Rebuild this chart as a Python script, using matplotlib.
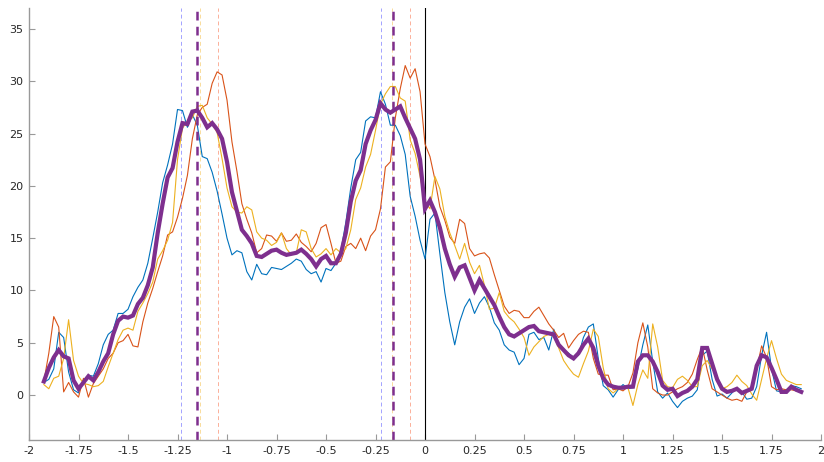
import matplotlib.pyplot as plt
import numpy as np

plt.rcParams['font.family'] = 'DejaVu Sans'
plt.rcParams['axes.unicode_minus'] = False

# time axis (s), one sample every 25 ms
t = np.round(np.arange(-1.925, 1.9001, 0.025), 3)

cond_1 = [1.2, 1.5, 2.5, 6.0, 5.5, 2.2, 0.5, 0.2, 1.4, 1.9,
          1.8, 3.0, 4.8, 5.8, 6.2, 7.8, 7.8, 8.2, 9.4, 10.3,
          11.0, 12.6, 15.0, 17.5, 20.3, 22.0, 24.0, 27.3, 27.2, 25.6,
          26.8, 25.8, 22.8, 22.6, 21.3, 19.5, 17.3, 15.0, 13.4, 13.8,
          13.6, 11.8, 11.0, 12.5, 11.6, 11.5, 12.2, 12.1, 12.0, 12.3,
          12.6, 13.0, 12.8, 12.0, 11.6, 11.8, 10.8, 12.1, 11.9, 12.6,
          13.8, 16.5, 19.8, 22.5, 23.2, 26.2, 26.6, 26.5, 29.0, 27.8,
          25.8, 25.8, 24.8, 23.0, 19.0, 17.1, 14.8, 13.0, 16.8, 17.4,
          13.5, 9.8, 7.0, 4.8, 7.0, 8.4, 9.2, 7.8, 8.8, 9.4,
          8.4, 6.9, 6.2, 4.8, 4.3, 4.1, 2.9, 3.5, 5.8, 6.0,
          5.3, 5.5, 4.3, 6.3, 4.8, 4.3, 4.0, 3.6, 3.8, 5.5,
          6.5, 6.8, 3.5, 0.9, 0.5, -0.2, 0.5, 1.0, 0.6, 0.7,
          2.5, 4.8, 6.7, 3.2, 0.3, -0.3, 0.2, -0.6, -1.2, -0.6,
          -0.3, -0.1, 0.5, 3.8, 4.2, 1.5, -0.1, 0.1, -0.3, 0.2,
          0.7, 0.3, -0.4, -0.3, 0.8, 3.8, 6.0, 2.5, 0.4, 0.3,
          0.5, 0.9, 0.8, 0.6]

cond_2 = [1.3, 4.0, 7.5, 6.5, 0.3, 1.2, 0.3, -0.2, 1.6, -0.2,
          1.1, 1.8, 2.5, 3.5, 4.0, 5.0, 5.2, 5.8, 4.7, 4.6,
          7.0, 8.8, 10.2, 11.8, 13.3, 15.3, 15.6, 17.0, 18.8, 21.0,
          24.5, 26.8, 27.5, 27.8, 29.8, 30.9, 30.6, 28.2, 24.2, 21.4,
          18.3, 16.8, 15.5, 13.6, 14.0, 15.3, 15.2, 14.7, 15.5, 14.7,
          14.8, 15.4, 14.6, 14.2, 13.7, 14.5, 16.0, 16.3, 14.5, 12.6,
          12.8, 14.2, 14.5, 14.0, 15.0, 13.8, 15.2, 15.8, 17.8, 21.8,
          22.3, 26.5, 29.3, 31.5, 30.3, 31.2, 29.0, 24.0, 22.8, 20.6,
          18.0, 16.7, 15.1, 14.5, 16.8, 16.4, 14.0, 13.3, 13.5, 13.6,
          13.1, 11.5, 10.0, 8.5, 7.8, 8.1, 8.0, 7.4, 7.4, 8.0,
          8.4, 7.6, 6.8, 6.2, 5.5, 5.9, 4.5, 5.2, 5.8, 6.1,
          6.0, 3.5, 2.0, 1.9, 1.9, 0.5, 0.6, 0.4, 0.8, 2.1,
          5.0, 6.9, 4.6, 0.6, 0.2, 0.0, 0.0, 0.3, 0.6, 0.8,
          1.2, 2.0, 3.4, 4.6, 2.4, 0.6, 0.3, 0.0, -0.3, -0.5,
          -0.4, -0.6, 0.3, 0.6, 2.5, 4.7, 3.6, 0.8, 0.5, 0.6,
          0.5, 0.5, 0.4, 0.3]

cond_3 = [1.0, 0.6, 1.6, 1.8, 3.5, 7.2, 3.3, 1.8, 1.1, 1.0,
          0.8, 0.9, 1.3, 2.7, 4.0, 5.3, 6.2, 6.4, 6.2, 8.0,
          8.8, 9.7, 10.8, 13.0, 13.8, 14.8, 16.5, 22.5, 25.5, 26.2,
          26.5, 27.6, 27.7, 26.5, 25.9, 25.1, 22.6, 19.8, 18.0, 17.5,
          17.4, 18.0, 17.7, 15.6, 15.0, 14.8, 14.3, 14.6, 15.5, 14.0,
          13.4, 13.6, 15.8, 15.6, 14.0, 13.2, 13.5, 14.0, 13.4, 14.0,
          13.6, 14.0, 15.8, 18.7, 19.8, 21.8, 23.0, 25.3, 27.8, 28.8,
          29.5, 29.5, 28.4, 28.1, 24.4, 23.1, 20.9, 18.5, 17.8, 20.9,
          19.7, 17.1, 15.5, 14.3, 13.0, 14.5, 12.7, 11.6, 12.4, 10.5,
          8.2, 8.3, 9.8, 8.0, 7.4, 7.0, 6.3, 5.5, 3.8, 4.6,
          5.1, 5.6, 5.8, 5.6, 4.5, 3.3, 2.6, 2.0, 1.7, 3.0,
          4.2, 6.3, 5.6, 2.6, 0.6, 0.2, 0.6, 0.6, 0.7, -1.0,
          1.0, 2.4, 1.6, 6.8, 4.6, 1.4, 0.8, 0.7, 1.5, 1.8,
          1.4, 0.8, 0.8, 2.8, 3.3, 2.5, 1.8, 0.6, 0.8, 1.2,
          1.9, 1.3, 0.9, 0.1, -0.5, 1.5, 3.5, 5.2, 3.5, 2.0,
          1.4, 1.2, 1.0, 1.0]

grand_avg = [1.3, 2.6, 3.6, 4.3, 3.7, 3.5, 1.4, 0.6, 1.2, 1.8,
             1.4, 2.2, 3.2, 4.0, 5.8, 7.1, 7.5, 7.4, 7.6, 8.7,
             9.3, 10.5, 12.2, 15.5, 18.3, 20.8, 21.7, 24.2, 26.0, 25.9,
             27.1, 27.2, 26.5, 25.6, 26.0, 25.4, 24.5, 22.3, 19.4, 17.6,
             15.8, 15.2, 14.5, 13.3, 13.2, 13.5, 13.8, 13.9, 13.6, 13.4,
             13.5, 13.6, 13.9, 13.5, 13.0, 12.3, 13.0, 13.3, 12.6, 12.6,
             13.5, 15.5, 18.5, 20.5, 21.5, 24.0, 25.3, 26.3, 27.9, 27.3,
             27.0, 27.3, 27.6, 26.5, 25.5, 24.5, 22.5, 17.8, 18.6, 17.5,
             16.0, 14.0, 12.5, 11.3, 12.2, 12.4, 11.2, 10.0, 11.0, 10.2,
             9.4, 8.6, 7.5, 6.5, 5.8, 5.6, 5.9, 6.2, 6.5, 6.6,
             6.1, 6.0, 5.9, 5.8, 4.8, 4.3, 3.8, 3.5, 4.0, 4.8,
             5.4, 4.5, 2.8, 1.6, 1.0, 0.8, 0.7, 0.7, 0.8, 0.8,
             3.2, 3.8, 3.8, 3.2, 2.2, 0.9, 0.5, 0.6, -0.1, 0.2,
             0.4, 0.8, 1.5, 4.5, 4.5, 3.0, 1.5, 0.6, 0.3, 0.4,
             0.6, 0.2, 0.4, 0.6, 2.8, 3.8, 3.6, 2.6, 1.5, 0.3,
             0.3, 0.8, 0.5, 0.3]

# peak latencies (s) for each condition and the average
peaks_1 = [-1.232, -0.220]
peaks_2 = [-1.045, -0.076]
peaks_3 = [-1.136, -0.169]
peaks_avg = [-1.154, -0.162]

c1, c2, c3, cavg = '#0072BD', '#D95319', '#EDB120', '#7E2F8E'

fig = plt.figure(figsize=(8.24, 4.62), dpi=100)
ax = fig.add_axes([0.0352, 0.0476, 0.9612, 0.935])

for p in peaks_1:
    ax.axvline(p, color='#a3a3ff', lw=0.7, ls=(0, (4, 3)))
for p in peaks_3:
    ax.axvline(p, color='#f9dc9c', lw=0.7, ls=(0, (4, 3)))
for p in peaks_2:
    ax.axvline(p, color='#fbb09a', lw=0.7, ls=(0, (4, 3)))
ax.axvline(0, color='k', lw=0.8)

ax.plot(t, cond_1, color=c1, lw=0.8)
ax.plot(t, cond_2, color=c2, lw=0.8)
ax.plot(t, cond_3, color=c3, lw=0.8)
ax.plot(t, grand_avg, color=cavg, lw=3.0, solid_joinstyle='miter')

for p in peaks_avg:
    ax.axvline(p, color=cavg, lw=1.8, ls=(0, (3.5, 2.5)))

ax.set_xlim(-2, 2)
ax.set_ylim(-4.3, 37)
xt = np.arange(-2, 2.01, 0.25)
ax.set_xticks(xt)
ax.set_xticklabels(['%g' % v for v in xt])
ax.set_yticks(np.arange(0, 36, 5))

for s in ['top', 'right']:
    ax.spines[s].set_visible(False)
for s in ['left', 'bottom']:
    ax.spines[s].set_color('#999999')
    ax.spines[s].set_linewidth(1.0)
ax.tick_params(direction='in', length=4, width=0.8, color='#999999',
               labelsize=8, labelcolor='#262626', pad=4)

fig.savefig('out.png', dpi=100)
